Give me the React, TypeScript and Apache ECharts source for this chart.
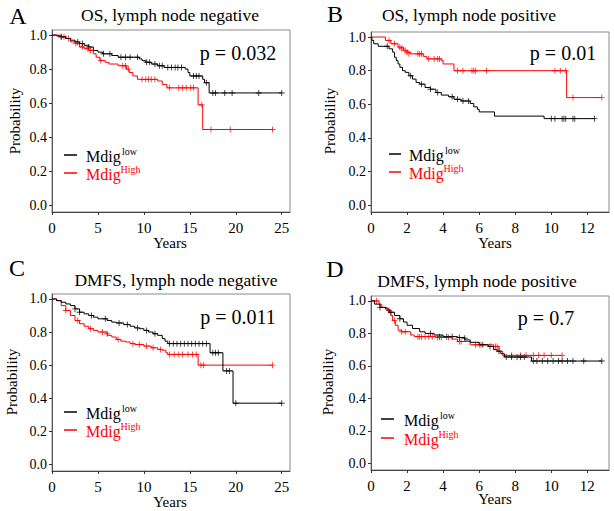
import React, { useEffect, useRef } from "react";
import * as echarts from "echarts";

// ---------- Data ----------
// Panel A: OS, lymph node negative
const lowA_steps = [[0,1],[0.5,0.995],[1,0.99],[1.5,0.98],[2,0.97],[2.5,0.96],[3,0.95],[3.5,0.94],[4,0.93],[4.5,0.91],[5,0.9],[5.5,0.89],[6.5,0.88],[7.2,0.87],[9.5,0.86],[9.8,0.85],[10.2,0.84],[10.8,0.83],[11.5,0.82],[12.2,0.81],[14.5,0.8],[14.8,0.78],[15,0.76],[16.4,0.74],[16.6,0.72],[17.1,0.66],[25,0.66]];
const lowA_cens = [[1,0.99],[2.8,0.96],[3.3,0.95],[4,0.93],[5.6,0.89],[6.3,0.89],[7.5,0.87],[8,0.87],[8.5,0.87],[9.3,0.87],[10.3,0.84],[10.6,0.84],[11.2,0.83],[11.7,0.82],[12,0.82],[12.6,0.81],[13,0.81],[13.4,0.81],[13.7,0.81],[14.1,0.81],[15.4,0.76],[15.7,0.76],[16,0.76],[16.8,0.72],[17.5,0.66],[17.8,0.66],[18.8,0.66],[19.6,0.66],[22.5,0.66],[25,0.66]];
const highA_steps = [[0,1],[0.8,0.99],[1.5,0.98],[2,0.96],[2.5,0.95],[3,0.93],[3.5,0.92],[4,0.91],[4.5,0.89],[4.8,0.87],[5.2,0.85],[5.8,0.84],[6.2,0.83],[7.2,0.82],[8.1,0.8],[8.4,0.78],[8.8,0.76],[9.3,0.74],[11.5,0.73],[12,0.71],[12.5,0.69],[15.9,0.59],[16.4,0.445],[24,0.445]];
const highA_cens = [[1,0.99],[1.3,0.99],[1.8,0.98],[2.6,0.95],[3.3,0.93],[3.9,0.92],[4.2,0.91],[5.3,0.85],[7.7,0.82],[8,0.82],[8.3,0.8],[9.8,0.74],[10.2,0.74],[10.5,0.74],[10.8,0.74],[11.2,0.74],[12.8,0.69],[13.8,0.69],[14.2,0.69],[14.6,0.69],[15.1,0.69],[15.4,0.69],[16.3,0.59],[17.3,0.445],[19.4,0.445],[24,0.445]];

// Panel B: OS, lymph node positive
const lowB_steps = [[0,1],[0.05,0.98],[0.15,0.96],[0.4,0.945],[1,0.93],[1.2,0.91],[1.3,0.88],[1.4,0.86],[1.5,0.84],[1.6,0.82],[1.75,0.8],[1.9,0.79],[2.1,0.77],[2.3,0.75],[2.5,0.73],[2.7,0.72],[3,0.7],[3.3,0.69],[3.6,0.67],[3.9,0.655],[4.3,0.645],[4.6,0.63],[5,0.62],[5.5,0.605],[5.7,0.585],[5.9,0.57],[6,0.555],[6.85,0.53],[9.6,0.515],[12.4,0.515]];
const lowB_cens = [[0.9,0.945],[2.2,0.77],[2.8,0.72],[3.3,0.69],[3.7,0.67],[4.5,0.645],[4.8,0.63],[5.1,0.62],[5.4,0.62],[10,0.515],[10.2,0.515],[10.6,0.515],[10.7,0.515],[10.8,0.515],[11.2,0.515],[11.3,0.515],[12.4,0.515]];
const highB_steps = [[0,1],[0.8,0.98],[1.1,0.96],[1.5,0.94],[1.8,0.92],[2,0.91],[2.2,0.9],[2.9,0.885],[3.1,0.87],[3.9,0.86],[4,0.84],[4.6,0.8],[10.85,0.64],[12.8,0.64]];
const highB_cens = [[1,0.98],[1.3,0.96],[1.6,0.94],[1.7,0.93],[1.9,0.92],[2,0.91],[2.1,0.9],[2.6,0.9],[2.7,0.9],[2.8,0.9],[3.2,0.87],[3.5,0.87],[3.7,0.87],[3.8,0.87],[4.8,0.8],[5.1,0.8],[5.6,0.8],[5.7,0.8],[5.8,0.8],[6.4,0.8],[10.2,0.8],[10.5,0.8],[10.8,0.8],[11.2,0.64],[12.8,0.64]];

// Panel C: DMFS, lymph node negative
const lowC_steps = [[0,1],[0.5,0.99],[1,0.98],[1.5,0.97],[2,0.96],[2.5,0.94],[3,0.92],[3.5,0.91],[4,0.9],[4.5,0.89],[5,0.88],[6,0.87],[6.5,0.86],[7,0.855],[7.8,0.845],[8.5,0.835],[9,0.825],[9.5,0.82],[10,0.81],[10.5,0.8],[11,0.79],[11.5,0.78],[12,0.76],[12.3,0.745],[12.6,0.73],[17.2,0.675],[18.6,0.565],[19.7,0.37],[25,0.37]];
const lowC_cens = [[2.5,0.94],[3,0.92],[4.3,0.9],[5.8,0.88],[7.3,0.855],[8.2,0.845],[9.3,0.825],[10.3,0.81],[11.2,0.79],[12.8,0.73],[13.2,0.73],[13.6,0.73],[14,0.73],[14.4,0.73],[14.8,0.73],[15.2,0.73],[15.6,0.73],[16,0.73],[16.4,0.73],[16.8,0.73],[17.5,0.675],[17.8,0.675],[18.1,0.675],[19,0.565],[19.3,0.565],[20,0.37],[25,0.37]];
const highC_steps = [[0,1],[0.5,0.99],[1,0.96],[1.5,0.93],[2,0.9],[2.5,0.87],[3,0.85],[3.5,0.835],[4,0.82],[4.5,0.81],[5,0.8],[6,0.78],[6.5,0.77],[7,0.755],[7.5,0.745],[8,0.74],[8.5,0.73],[9,0.725],[10,0.715],[10.8,0.705],[11.5,0.695],[12,0.69],[12.4,0.675],[12.6,0.665],[15.9,0.6],[24,0.6]];
const highC_cens = [[1.5,0.93],[2.8,0.87],[4.2,0.82],[5.5,0.8],[6,0.79],[7.2,0.755],[8.8,0.73],[9.5,0.725],[10.3,0.715],[11,0.705],[11.8,0.695],[12.8,0.665],[13.3,0.665],[13.8,0.665],[14.2,0.665],[14.8,0.665],[15.3,0.665],[15.7,0.665],[16.2,0.6],[16.5,0.6],[24,0.6]];

// Panel D: DMFS, lymph node positive
const lowD_steps = [[0,1],[0.2,0.98],[0.5,0.96],[0.8,0.95],[1,0.93],[1.3,0.91],[1.6,0.89],[1.8,0.87],[2,0.85],[2.3,0.83],[2.7,0.81],[3,0.8],[3.5,0.79],[4,0.78],[4.8,0.775],[5.2,0.76],[5.5,0.745],[6,0.73],[6.5,0.72],[6.8,0.7],[7,0.69],[7.2,0.675],[7.4,0.655],[8.9,0.63],[12.8,0.63]];
const lowD_cens = [[0.5,0.96],[1.1,0.93],[1.6,0.89],[3.3,0.8],[3.8,0.78],[4.2,0.78],[4.5,0.78],[4.9,0.775],[5.2,0.77],[6.2,0.73],[6.6,0.72],[7.1,0.69],[7.5,0.655],[7.8,0.655],[8.1,0.655],[8.3,0.655],[8.5,0.655],[9,0.63],[9.2,0.63],[9.5,0.63],[9.8,0.63],[10.1,0.63],[10.4,0.63],[10.6,0.63],[10.9,0.63],[11.2,0.63],[11.8,0.63],[12.8,0.63]];
const highD_steps = [[0,1],[0.45,0.98],[0.6,0.96],[0.9,0.94],[1.1,0.91],[1.2,0.88],[1.35,0.85],[1.5,0.82],[1.7,0.81],[2.2,0.79],[2.4,0.78],[3.6,0.775],[4.5,0.765],[4.8,0.75],[5.5,0.73],[6.8,0.72],[7.1,0.69],[7.3,0.665],[10.6,0.665]];
const highD_cens = [[0.3,1],[1,0.94],[1.3,0.88],[1.7,0.81],[1.9,0.81],[2.6,0.78],[2.7,0.78],[2.8,0.78],[3,0.78],[3.2,0.78],[3.4,0.78],[3.7,0.775],[3.9,0.775],[4.3,0.775],[4.9,0.75],[5,0.75],[5.8,0.73],[6,0.73],[6.1,0.73],[6.9,0.72],[7,0.72],[7.8,0.665],[8.3,0.665],[8.6,0.665],[9,0.665],[9.3,0.665],[9.6,0.665],[10,0.665],[10.6,0.665]];

const titles = ["OS, lymph node negative", "OS, lymph node positive", "DMFS, lymph node negative", "DMFS, lymph node positive"];
const letters = ["A", "B", "C", "D"];
const pValues = ["p = 0.032", "p = 0.01", "p = 0.011", "p = 0.7"];
const xTicksLong = [0, 5, 10, 15, 20, 25];
const xTicksShort = [0, 2, 4, 6, 8, 10, 12];
const yTicks = [0, 0.2, 0.4, 0.6, 0.8, 1.0];

// ---------- Layout ----------
const FONT = "Liberation Serif, DejaVu Serif, serif";
const RED = "#ff0000";
const BLACK = "#000000";
const PLUS = "path://M-0.15,-1H0.15V-0.15H1V0.15H0.15V1H-0.15V0.15H-1V-0.15H-0.15Z";

const panels = [
  { grid: { left: 52, top: 30, width: 238, height: 182 }, xMax: 25.9, xTicks: xTicksLong, low: [lowA_steps, lowA_cens], high: [highA_steps, highA_cens],
    letter: [18, 16], title: [170, 15], p: [238, 53], yName: [15, 121], xName: [170, 243],
    leg: { x1: 64, x2: 77, yb: 155, yr: 173, tx: 86 } },
  { grid: { left: 371, top: 32, width: 238, height: 180 }, xMax: 13.2, xTicks: xTicksShort, low: [lowB_steps, lowB_cens], high: [highB_steps, highB_cens],
    letter: [335, 14], title: [469, 15], p: [563, 53], yName: [330, 121], xName: [495, 243],
    leg: { x1: 389, x2: 401, yb: 154, yr: 172, tx: 409 } },
  { grid: { left: 52, top: 294, width: 238, height: 177 }, xMax: 25.9, xTicks: xTicksLong, low: [lowC_steps, lowC_cens], high: [highC_steps, highC_cens],
    letter: [17, 268], title: [176, 280], p: [238, 317], yName: [12, 382], xName: [170, 502],
    leg: { x1: 64, x2: 77, yb: 412, yr: 430, tx: 86 } },
  { grid: { left: 371, top: 296, width: 238, height: 174 }, xMax: 13.2, xTicks: xTicksShort, low: [lowD_steps, lowD_cens], high: [highD_steps, highD_cens],
    letter: [335, 269], title: [477, 281], p: [546, 318], yName: [328, 382], xName: [495, 499],
    leg: { x1: 381, x2: 394, yb: 419, yr: 438, tx: 404 } },
];

function txt(x: number, y: number, text: string, size: number, color = "#000", align = "center", rotation = 0) {
  return {
    type: "text", x, y, rotation,
    style: { text, fill: color, font: `${size}px ${FONT}`, textAlign: align, textVerticalAlign: "middle" },
  };
}

export default function App() {
  const ref = useRef<HTMLDivElement>(null);
  useEffect(() => {
    if (!ref.current) return;
    const chart = echarts.init(ref.current, null, { renderer: "svg" });
    const grids: any[] = [];
    const xAxes: any[] = [];
    const yAxes: any[] = [];
    const series: any[] = [];
    const graphics: any[] = [];

    panels.forEach((p, i) => {
      grids.push({ ...p.grid, show: true, borderColor: "#8a8a8a", borderWidth: 1, backgroundColor: "transparent" });
      xAxes.push({
        gridIndex: i, type: "value", min: 0, max: p.xMax,
        axisLine: { show: true, onZero: false, lineStyle: { color: "#444", width: 1 } }, splitLine: { show: false },
        axisTick: { show: true, inside: false, length: 3, lineStyle: { color: "#333" }, customValues: p.xTicks },
        axisLabel: { show: true, margin: 8, fontFamily: FONT, fontSize: 15, color: "#000", customValues: p.xTicks },
      });
      yAxes.push({
        gridIndex: i, type: "value", min: -0.04, max: 1.03,
        axisLine: { show: true, onZero: false, lineStyle: { color: "#555", width: 1 } }, splitLine: { show: false },
        axisTick: { show: true, inside: false, length: 3, lineStyle: { color: "#333" }, customValues: yTicks },
        axisLabel: { show: true, margin: 5, fontFamily: FONT, fontSize: 14, color: "#000", customValues: yTicks,
          formatter: (v: number) => v.toFixed(1) },
      });
      const mk = (steps: number[][], cens: number[][], color: string) => {
        series.push({ type: "line", xAxisIndex: i, yAxisIndex: i, data: steps, step: "end", showSymbol: false,
          lineStyle: { color, width: 1 }, itemStyle: { color }, silent: true });
        series.push({ type: "scatter", xAxisIndex: i, yAxisIndex: i, data: cens, symbol: PLUS, symbolSize: 6,
          itemStyle: { color }, silent: true });
      };
      mk(p.high[0], p.high[1], RED);
      mk(p.low[0], p.low[1], BLACK);

      graphics.push(txt(p.letter[0], p.letter[1], letters[i], 24));
      graphics.push(txt(p.title[0], p.title[1], titles[i], 17.5));
      graphics.push(txt(p.p[0], p.p[1], pValues[i], 20));
      graphics.push(txt(p.yName[0], p.yName[1], "Probability", 15, "#000", "center", Math.PI / 2));
      graphics.push(txt(p.xName[0], p.xName[1], "Years", 15));
      const L = p.leg;
      graphics.push({ type: "line", shape: { x1: L.x1, y1: L.yb, x2: L.x2, y2: L.yb }, style: { stroke: BLACK, lineWidth: 1.5 } });
      graphics.push({ type: "line", shape: { x1: L.x1, y1: L.yr, x2: L.x2, y2: L.yr }, style: { stroke: RED, lineWidth: 1.5 } });
      graphics.push(txt(L.tx, L.yb + 1, "Mdig", 16, BLACK, "left"));
      graphics.push(txt(L.tx + 36, L.yb - 4, "low", 10, BLACK, "left"));
      graphics.push(txt(L.tx, L.yr + 1, "Mdig", 16, RED, "left"));
      graphics.push(txt(L.tx + 34.5, L.yr - 4, "High", 10, RED, "left"));
    });

    chart.setOption({
      animation: false,
      backgroundColor: "#fff",
      textStyle: { fontFamily: FONT },
      grid: grids, xAxis: xAxes, yAxis: yAxes, series, graphic: graphics,
    });
    return () => chart.dispose();
  }, []);
  return <div ref={ref} style={{ position: "fixed", left: 0, top: 0, width: 614, height: 511 }} />;
}
